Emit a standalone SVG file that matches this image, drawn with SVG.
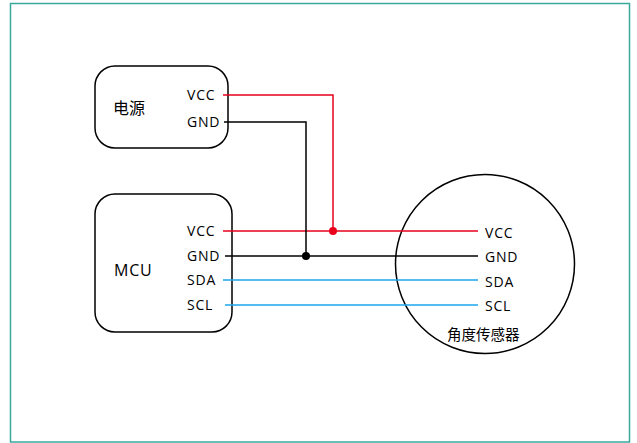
<svg xmlns="http://www.w3.org/2000/svg" width="637" height="443" viewBox="0 0 637 443">
<style>
.box{fill:#fff;stroke:#000;stroke-width:1.5}
.t{font-family:"Open Sans","Noto Sans CJK SC",sans-serif;font-size:14px;fill:#000;letter-spacing:0.8px}
.c{font-family:"Noto Sans CJK SC","Open Sans",sans-serif;font-size:14.5px;fill:#000}
.w{fill:none;stroke-width:1.5}
.red{stroke:#e8001c}
.blk{stroke:#000}
.blu{stroke:#1aa7ec}
</style>
<rect x="10.5" y="3.5" width="619" height="438.5" fill="#fff" stroke="#3aa89c" stroke-width="1.5"/>
<g id="power">
<rect class="box" x="95" y="66" width="133" height="82" rx="20"/>
<text class="c" x="113" y="114" style="font-size:16px">电源</text>
<text class="t" x="187" y="100">VCC</text>
<text class="t" x="187" y="127">GND</text>
</g>
<g id="mcu">
<rect class="box" x="95" y="194" width="137" height="138" rx="20"/>
<text class="t" x="114" y="276" style="font-size:16px;letter-spacing:0.8px">MCU</text>
<text class="t" x="187" y="236">VCC</text>
<text class="t" x="187" y="261">GND</text>
<text class="t" x="187" y="285">SDA</text>
<text class="t" x="187" y="310">SCL</text>
</g>
<g id="sensor">
<circle cx="485" cy="264" r="89.5" fill="none" stroke="#000" stroke-width="1.5"/>
<text class="t" x="485" y="238">VCC</text>
<text class="t" x="485" y="262">GND</text>
<text class="t" x="485" y="287">SDA</text>
<text class="t" x="485" y="311">SCL</text>
<text class="c" x="447" y="340">角度传感器</text>
</g>
<g id="connectors">
<polyline class="w red" points="223,95 333,95 333,231"/>
<line class="w red" x1="223" y1="231" x2="478" y2="231"/>
<polyline class="w blk" points="224,122 306,122 306,256"/>
<line class="w blk" x1="225" y1="256" x2="478" y2="256"/>
<line class="w blu" x1="223" y1="280" x2="478" y2="280"/>
<line class="w blu" x1="225" y1="305" x2="478" y2="305"/>
<circle cx="333" cy="231" r="4" fill="#e8001c"/>
<circle cx="306" cy="256" r="4" fill="#000"/>
</g>
</svg>
